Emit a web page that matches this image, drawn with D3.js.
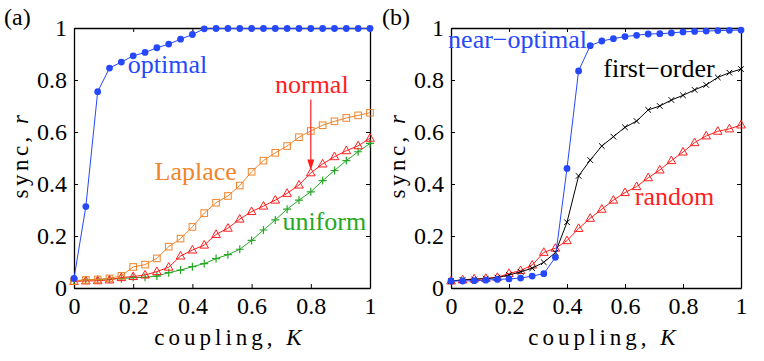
<!DOCTYPE html>
<html>
<head>
<meta charset="utf-8">
<script src="https://cdn.jsdelivr.net/npm/d3@7"></script>
<style>
  body { margin: 0; background: #fff; }
</style>
</head>
<body>
<svg id="chart" width="764" height="361"></svg>
<script>
// coupling values (same grid for every curve)
const kValues = [0, 0.04, 0.08, 0.12, 0.16, 0.2, 0.24, 0.28, 0.32, 0.36, 0.4, 0.44, 0.48,
  0.52, 0.56, 0.6, 0.64, 0.68, 0.72, 0.76, 0.8, 0.84, 0.88, 0.92, 0.96, 1];
const tickValues = [0, 0.2, 0.4, 0.6, 0.8, 1];
const tickLabels = ["0", "0.2", "0.4", "0.6", "0.8", "1"];

// panel (a)
const optimal = [0.037, 0.313, 0.755, 0.846, 0.869, 0.893, 0.906, 0.924, 0.938, 0.957, 0.975,
  0.997, 0.998, 0.998, 0.998, 0.998, 0.998, 0.998, 0.998, 0.998, 0.998, 0.998, 0.998, 0.998, 0.998, 0.998];
const laplace = [0.027, 0.031, 0.033, 0.037, 0.047, 0.081, 0.090, 0.114, 0.159, 0.190, 0.235,
  0.288, 0.328, 0.354, 0.394, 0.447, 0.490, 0.520, 0.546, 0.580, 0.604, 0.626, 0.641, 0.654, 0.664, 0.674];
const normal = [0.025, 0.027, 0.028, 0.031, 0.040, 0.044, 0.050, 0.063, 0.080, 0.123, 0.146,
  0.165, 0.206, 0.230, 0.265, 0.294, 0.315, 0.338, 0.364, 0.396, 0.443, 0.477, 0.505, 0.528, 0.547, 0.576];
const uniform = [0.028, 0.031, 0.033, 0.035, 0.036, 0.040, 0.041, 0.046, 0.059, 0.069, 0.082,
  0.094, 0.113, 0.128, 0.149, 0.183, 0.223, 0.262, 0.303, 0.338, 0.370, 0.413, 0.452, 0.490, 0.524, 0.556];

// panel (b)
const nearOptimal = [0.027, 0.027, 0.028, 0.030, 0.033, 0.035, 0.038, 0.046, 0.055, 0.118, 0.460,
  0.835, 0.932, 0.950, 0.959, 0.967, 0.972, 0.977, 0.978, 0.981, 0.985, 0.987, 0.988, 0.990, 0.991, 0.992];
const firstOrder = [0.027, 0.031, 0.033, 0.036, 0.040, 0.050, 0.062, 0.076, 0.099, 0.136, 0.253,
  0.431, 0.492, 0.546, 0.582, 0.618, 0.642, 0.685, 0.700, 0.723, 0.741, 0.762, 0.781, 0.810, 0.828, 0.842];
const random = [0.027, 0.031, 0.035, 0.037, 0.041, 0.056, 0.067, 0.088, 0.137, 0.153, 0.182,
  0.229, 0.268, 0.303, 0.338, 0.367, 0.390, 0.424, 0.454, 0.490, 0.523, 0.559, 0.585, 0.603, 0.612, 0.627];

const BLUE = "#2548fb", ORANGE = "#f0842a", RED = "#ff1e1e", GREEN = "#25a825", BLACK = "#000";
const SERIF = "'Liberation Serif', 'DejaVu Serif', serif";

const svg = d3.select("#chart").attr("font-family", SERIF);

const panels = [
  {
    letter: "(a)", letterX: 4, left: 74, right: 370, ylabX: 28,
    series: [
      { values: uniform, color: GREEN, marker: "plus" },
      { values: normal, color: RED, marker: "triangle" },
      { values: laplace, color: ORANGE, marker: "square" },
      { values: optimal, color: BLUE, marker: "dot" }
    ],
    labels: [
      { text: "optimal", k: 0.182, r: 0.827, color: BLUE },
      { text: "normal", k: 0.679, r: 0.75, color: RED },
      { text: "Laplace", k: 0.272, r: 0.415, color: ORANGE },
      { text: "uniform", k: 0.704, r: 0.223, color: GREEN }
    ],
    arrow: { k: 0.8, r0: 0.725, r1: 0.452, color: RED }
  },
  {
    letter: "(b)", letterX: 382, left: 451, right: 741, ylabX: 405,
    series: [
      { values: random, color: RED, marker: "triangle" },
      { values: firstOrder, color: BLACK, marker: "cross" },
      { values: nearOptimal, color: BLUE, marker: "dot" }
    ],
    labels: [
      { text: "near\u2212optimal", k: -0.01, r: 0.923, color: BLUE },
      { text: "first\u2212order", k: 0.525, r: 0.81, color: BLACK },
      { text: "random", k: 0.634, r: 0.32, color: RED }
    ]
  }
];

const plotTop = 28, plotBottom = 288;

panels.forEach(p => {
  const x = d3.scaleLinear().domain([0, 1]).range([p.left, p.right]);
  const y = d3.scaleLinear().domain([0, 1]).range([plotBottom, plotTop]);
  const g = svg.append("g");

  // axes (ticks inside, box on all sides)
  const fmt = (d, i) => tickLabels[i];
  const xAxis = g.append("g").attr("transform", `translate(0,${plotBottom})`)
    .call(d3.axisBottom(x).tickValues(tickValues).tickSizeInner(-4).tickSizeOuter(0).tickPadding(8).tickFormat(fmt));
  g.append("g").attr("transform", `translate(0,${plotTop})`)
    .call(d3.axisTop(x).tickValues(tickValues).tickSizeInner(-4).tickSizeOuter(0).tickFormat(""));
  g.append("g").attr("transform", `translate(${p.left},0)`)
    .call(d3.axisLeft(y).tickValues(tickValues).tickSizeInner(-4).tickSizeOuter(0).tickPadding(7).tickFormat(fmt));
  g.append("g").attr("transform", `translate(${p.right},0)`)
    .call(d3.axisRight(y).tickValues(tickValues).tickSizeInner(-4).tickSizeOuter(0).tickFormat(""));
  g.selectAll("g").attr("font-family", SERIF).attr("font-size", 24);
  g.selectAll(".domain").attr("stroke", "#000").attr("stroke-width", 1.3);
  g.selectAll(".tick line").attr("stroke", "#000");
  g.selectAll(".tick text").attr("fill", "#000");
  xAxis.selectAll(".tick text").attr("dy", "0.75em");

  // curves
  const line = d3.line().x((d, i) => x(kValues[i])).y(d => y(d));
  p.series.forEach(s => {
    g.append("path").datum(s.values).attr("d", line)
      .attr("fill", "none").attr("stroke", s.color).attr("stroke-width", 1);
    const m = g.append("g").selectAll("g").data(s.values).join("g")
      .attr("transform", (d, i) => `translate(${x(kValues[i])},${y(d)})`);
    if (s.marker === "dot") {
      m.append("circle").attr("r", 3.4).attr("fill", s.color);
    } else if (s.marker === "square") {
      m.append("rect").attr("x", -3.3).attr("y", -3.3).attr("width", 6.6).attr("height", 6.6)
        .attr("fill", "none").attr("stroke", s.color).attr("stroke-width", 1);
    } else if (s.marker === "triangle") {
      m.append("path").attr("d", "M0,-4.6L4.3,3L-4.3,3Z")
        .attr("fill", "none").attr("stroke", s.color).attr("stroke-width", 1);
    } else if (s.marker === "plus") {
      m.append("path").attr("d", "M-4,0H4M0,-4V4")
        .attr("stroke", s.color).attr("stroke-width", 1.2);
    } else if (s.marker === "cross") {
      m.append("path").attr("d", "M-2.8,-2.8L2.8,2.8M-2.8,2.8L2.8,-2.8")
        .attr("stroke", s.color).attr("stroke-width", 1);
    }
  });

  // series names
  p.labels.forEach(l => {
    g.append("text").attr("x", x(l.k)).attr("y", y(l.r))
      .attr("fill", l.color).attr("font-size", 26).text(l.text);
  });

  // arrow pointing at the normal curve
  if (p.arrow) {
    const a = p.arrow;
    const ax = x(a.k), y0 = y(a.r0), y1 = y(a.r1);
    g.append("line").attr("x1", ax).attr("x2", ax).attr("y1", y0).attr("y2", y1 - 8)
      .attr("stroke", a.color).attr("stroke-width", 1.2);
    g.append("path").attr("d", `M${ax},${y1}L${ax - 3.5},${y1 - 11}L${ax + 3.5},${y1 - 11}Z`)
      .attr("fill", a.color);
  }

  // axis titles
  const xt = g.append("text").attr("x", (p.left + p.right) / 2 + 8).attr("y", 345)
    .attr("text-anchor", "middle").attr("font-size", 23).attr("letter-spacing", 4);
  xt.append("tspan").text("coupling, ");
  xt.append("tspan").attr("font-style", "italic").text("K");

  const yt = g.append("text")
    .attr("transform", `translate(${p.ylabX},155) rotate(-90)`)
    .attr("text-anchor", "middle").attr("font-size", 23).attr("letter-spacing", 3.5);
  yt.append("tspan").text("sync, ");
  yt.append("tspan").attr("font-style", "italic").text("r");

  // panel letter
  g.append("text").attr("x", p.letterX).attr("y", 25)
    .attr("font-size", 24).text(p.letter);
});
</script>
</body>
</html>
